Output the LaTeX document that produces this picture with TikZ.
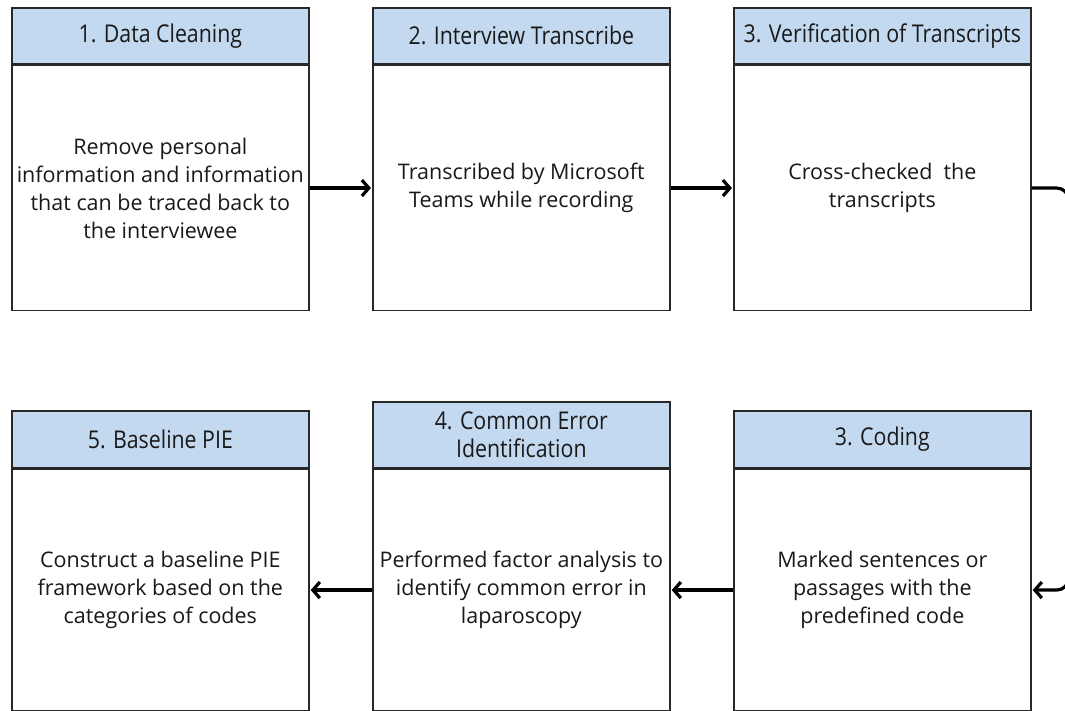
\documentclass[tikz,border=0pt]{standalone}
\usepackage{fontspec}
\setmainfont{Open Sans}
\newfontfamily\headfont[FakeStretch=0.87]{Open Sans}
\usetikzlibrary{arrows.meta}

\definecolor{headblue}{RGB}{195,217,240}
\definecolor{edgegray}{RGB}{40,40,40}
\definecolor{ink}{RGB}{25,25,25}

\begin{document}
\begin{tikzpicture}[x=1pt,y=-1pt,
  head/.style={draw=edgegray, line width=1.7pt, fill=headblue, anchor=north west,
    minimum width=297pt, inner sep=0pt, text=ink, align=center,
    font=\headfont\fontsize{24.5}{28}\selectfont},
  body/.style={draw=edgegray, line width=1.7pt, fill=white, anchor=north,
    minimum width=297pt, inner sep=0pt, align=center,
    text=ink, font=\fontsize{21.5}{28}\selectfont},
  arr/.style={line width=3.2pt, shorten >=1pt,
    -{Straight Barb[length=7pt,width=16pt,line width=3.2pt]}}
]
\clip (0,0) rectangle (1065,711);
\fill[white] (0,0) rectangle (1065,711);

% top row
\node[head, minimum height=56pt] (h1) at (11,7) {1. Data Cleaning};
\node[body, minimum height=245pt] (b1) at (h1.south)
  {Remove personal\\information and information\\that can be traced back to\\the interviewee};
\node[head, minimum height=56pt] (h2) at (372,7) {2. Interview Transcribe};
\node[body, minimum height=245pt] (b2) at (h2.south)
  {Transcribed by Microsoft\\Teams while recording};
\node[head, minimum height=56pt] (h3) at (733,7) {3. Verification of Transcripts};
\node[body, minimum height=245pt] (b3) at (h3.south)
  {Cross-checked\ \ the\\transcripts};

% bottom row
\node[head, minimum height=57pt] (h5) at (11,410) {5. Baseline PIE};
\node[body, minimum height=241pt] (b5) at (h5.south)
  {Construct a baseline PIE\\framework based on the\\categories of codes};
\node[head, minimum height=66pt] (h4) at (372,401) {4. Common Error\\Identification};
\node[body, minimum height=241pt] (b4) at (h4.south)
  {Performed factor analysis to\\identify common error in\\laparoscopy};
\node[head, minimum height=57pt] (h6) at (733,410) {3. Coding};
\node[body, minimum height=241pt] (b6) at (h6.south)
  {Marked sentences or\\passages with the\\predefined code};

% connectors
\draw[arr] (b1.east) -- (b2.west);
\draw[arr] (b2.east) -- (b3.west);
\draw[arr, rounded corners=12pt] (b3.east) -- ++(37,0) |- (b6.east);
\draw[arr] (b6.west) -- (b4.east);
\draw[arr] (b4.west) -- (b5.east);
\end{tikzpicture}
\end{document}
